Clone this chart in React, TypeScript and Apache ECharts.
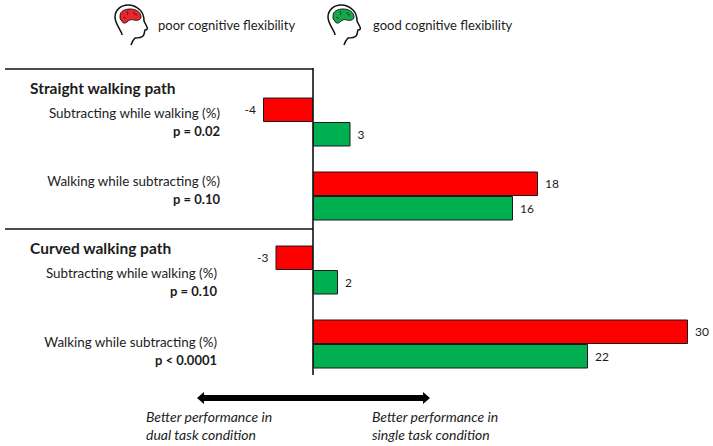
import React, { useEffect, useRef } from "react";
import * as echarts from "echarts";

const categories = ["S-SWW", "S-WWS", "C-SWW", "C-WWS"];
const poorValues = [-4, 18, -3, 30];
const goodValues = [3, 16, 2, 22];
const poorName = "poor cognitive flexibility";
const goodName = "good cognitive flexibility";
const sectionTitles = ["Straight walking path", "Curved walking path"];
const measureLabels = [
  "Subtracting while walking (%)",
  "Walking while subtracting (%)",
  "Subtracting while walking (%)",
  "Walking while subtracting (%)",
];
const pLabels = ["p = 0.02", "p = 0.10", "p = 0.10", "p < 0.0001"];
const footLeft = ["Better performance in", "dual task condition"];
const footRight = ["Better performance in", "single task condition"];

const FONT = "Lato, 'Open Sans', sans-serif";
const TEXT = "#1c1c1c";

const headPath =
  "M21 45 C22 42 23 40 25 38 C28 38 31 38 33 36 C35 34 34 32 35 30 C37 30 38 29 37 27 C36 25 35 23 34 21 C34 17 33 13 30 10 C26 6 22 5 18 5 C11 5 5 10 5 17 C5 22 8 26 10 30 C11 32 12 33 12 35";
const brainPath =
  "M10 16 C10 11 15 9 20 9 C26 9 31 12 31 17 C31 20 27 21 24 20 C21 19 19 20 17 22 C15 24 12 23 12 21 C10 20 10 18 10 16 Z";
const gyriPath = "M17 11 C18 13 18 14 17 15 M24 12 C24 14 25 15 27 15 M13 17 C14 18 15 18 16 18";
echarts.graphic.registerShape("headOutline", echarts.graphic.extendPath(headPath, {}) as any);
echarts.graphic.registerShape("brainFill", echarts.graphic.extendPath(brainPath, {}) as any);
echarts.graphic.registerShape("brainGyri", echarts.graphic.extendPath(gyriPath, {}) as any);

function label(text: string, x: number, y: number, align: string, extra: any = {}) {
  return {
    type: "text",
    x,
    y,
    silent: true,
    style: { text, x: 0, y: 0, align, verticalAlign: "middle", fill: TEXT, fontFamily: FONT, fontSize: 13.4, ...extra },
  };
}

function line(x1: number, y1: number, x2: number, y2: number) {
  return { type: "line", silent: true, shape: { x1, y1, x2, y2 }, style: { stroke: "#111111", lineWidth: 1.6 } };
}

function icon(x: number, fill: string) {
  return {
    type: "group",
    x,
    y: 0,
    silent: true,
    children: [
      { type: "brainFill", style: { fill, stroke: "#111111", lineWidth: 0.9 } },
      { type: "brainGyri", style: { fill: "none", stroke: "#222222", lineWidth: 0.9 } },
      { type: "headOutline", style: { fill: "none", stroke: "#111111", lineWidth: 1.5 } },
    ],
  };
}

function seriesOf(name: string, data: number[], color: string) {
  return {
    name,
    type: "bar",
    data,
    barWidth: 24.5,
    barGap: "0%",
    itemStyle: { color, borderColor: "#1a1a1a", borderWidth: 1 },
    label: {
      show: true,
      position: "outside" as any,
      distance: 7,
      color: TEXT,
      fontFamily: FONT,
      fontSize: 12,
    },
  };
}

export default function App() {
  const ref = useRef<HTMLDivElement>(null);
  useEffect(() => {
    const chart = echarts.init(ref.current!, undefined, { renderer: "svg" });
    const labelYs = [113, 181, 273, 341.5];
    const labelRight = [220, 220, 217, 217];
    const arrowY = 398;
    chart.setOption({
      animation: false,
      backgroundColor: "#ffffff",
      grid: { left: 188, width: 500, top: 85, height: 296 },
      xAxis: { type: "value", min: -10, max: 30, show: false },
      yAxis: { type: "category", data: categories, inverse: true, show: false },
      series: [seriesOf(poorName, poorValues, "#ff0000"), seriesOf(goodName, goodValues, "#00b050")],
      graphic: [
        line(5, 69, 313, 69),
        line(5, 229, 313, 229),
        line(313, 68, 313, 375),
        icon(110, "#e8262c"),
        icon(323, "#14a84a"),
        label(poorName, 158, 25, "left", { fontSize: 13 }),
        label(goodName, 373, 25, "left", { fontSize: 13 }),
        label(sectionTitles[0], 30, 88, "left", { fontWeight: "bold", fontSize: 15.5 }),
        label(sectionTitles[1], 30, 247.5, "left", { fontWeight: "bold", fontSize: 15.5 }),
        ...measureLabels.map((t, i) => label(t, labelRight[i], labelYs[i], "right")),
        ...pLabels.map((t, i) => label(t, labelRight[i], labelYs[i] + 18, "right", { fontWeight: "bold", fontSize: 13 })),
        {
          type: "polygon",
          silent: true,
          shape: {
            points: [
              [197, arrowY], [204, arrowY - 6], [204, arrowY - 3], [423, arrowY - 3], [423, arrowY - 6],
              [430, arrowY], [423, arrowY + 6], [423, arrowY + 3], [204, arrowY + 3], [204, arrowY + 6],
            ],
          },
          style: { fill: "#000000" },
        },
        label(footLeft[0], 146, 416.5, "left", { fontStyle: "italic", fontSize: 14 }),
        label(footLeft[1], 146, 434, "left", { fontStyle: "italic", fontSize: 14 }),
        label(footRight[0], 372, 416.5, "left", { fontStyle: "italic", fontSize: 14 }),
        label(footRight[1], 372, 434, "left", { fontStyle: "italic", fontSize: 14 }),
      ],
    });
    return () => chart.dispose();
  }, []);
  return <div ref={ref} style={{ position: "fixed", left: 0, top: 0, width: 713, height: 446 }} />;
}
